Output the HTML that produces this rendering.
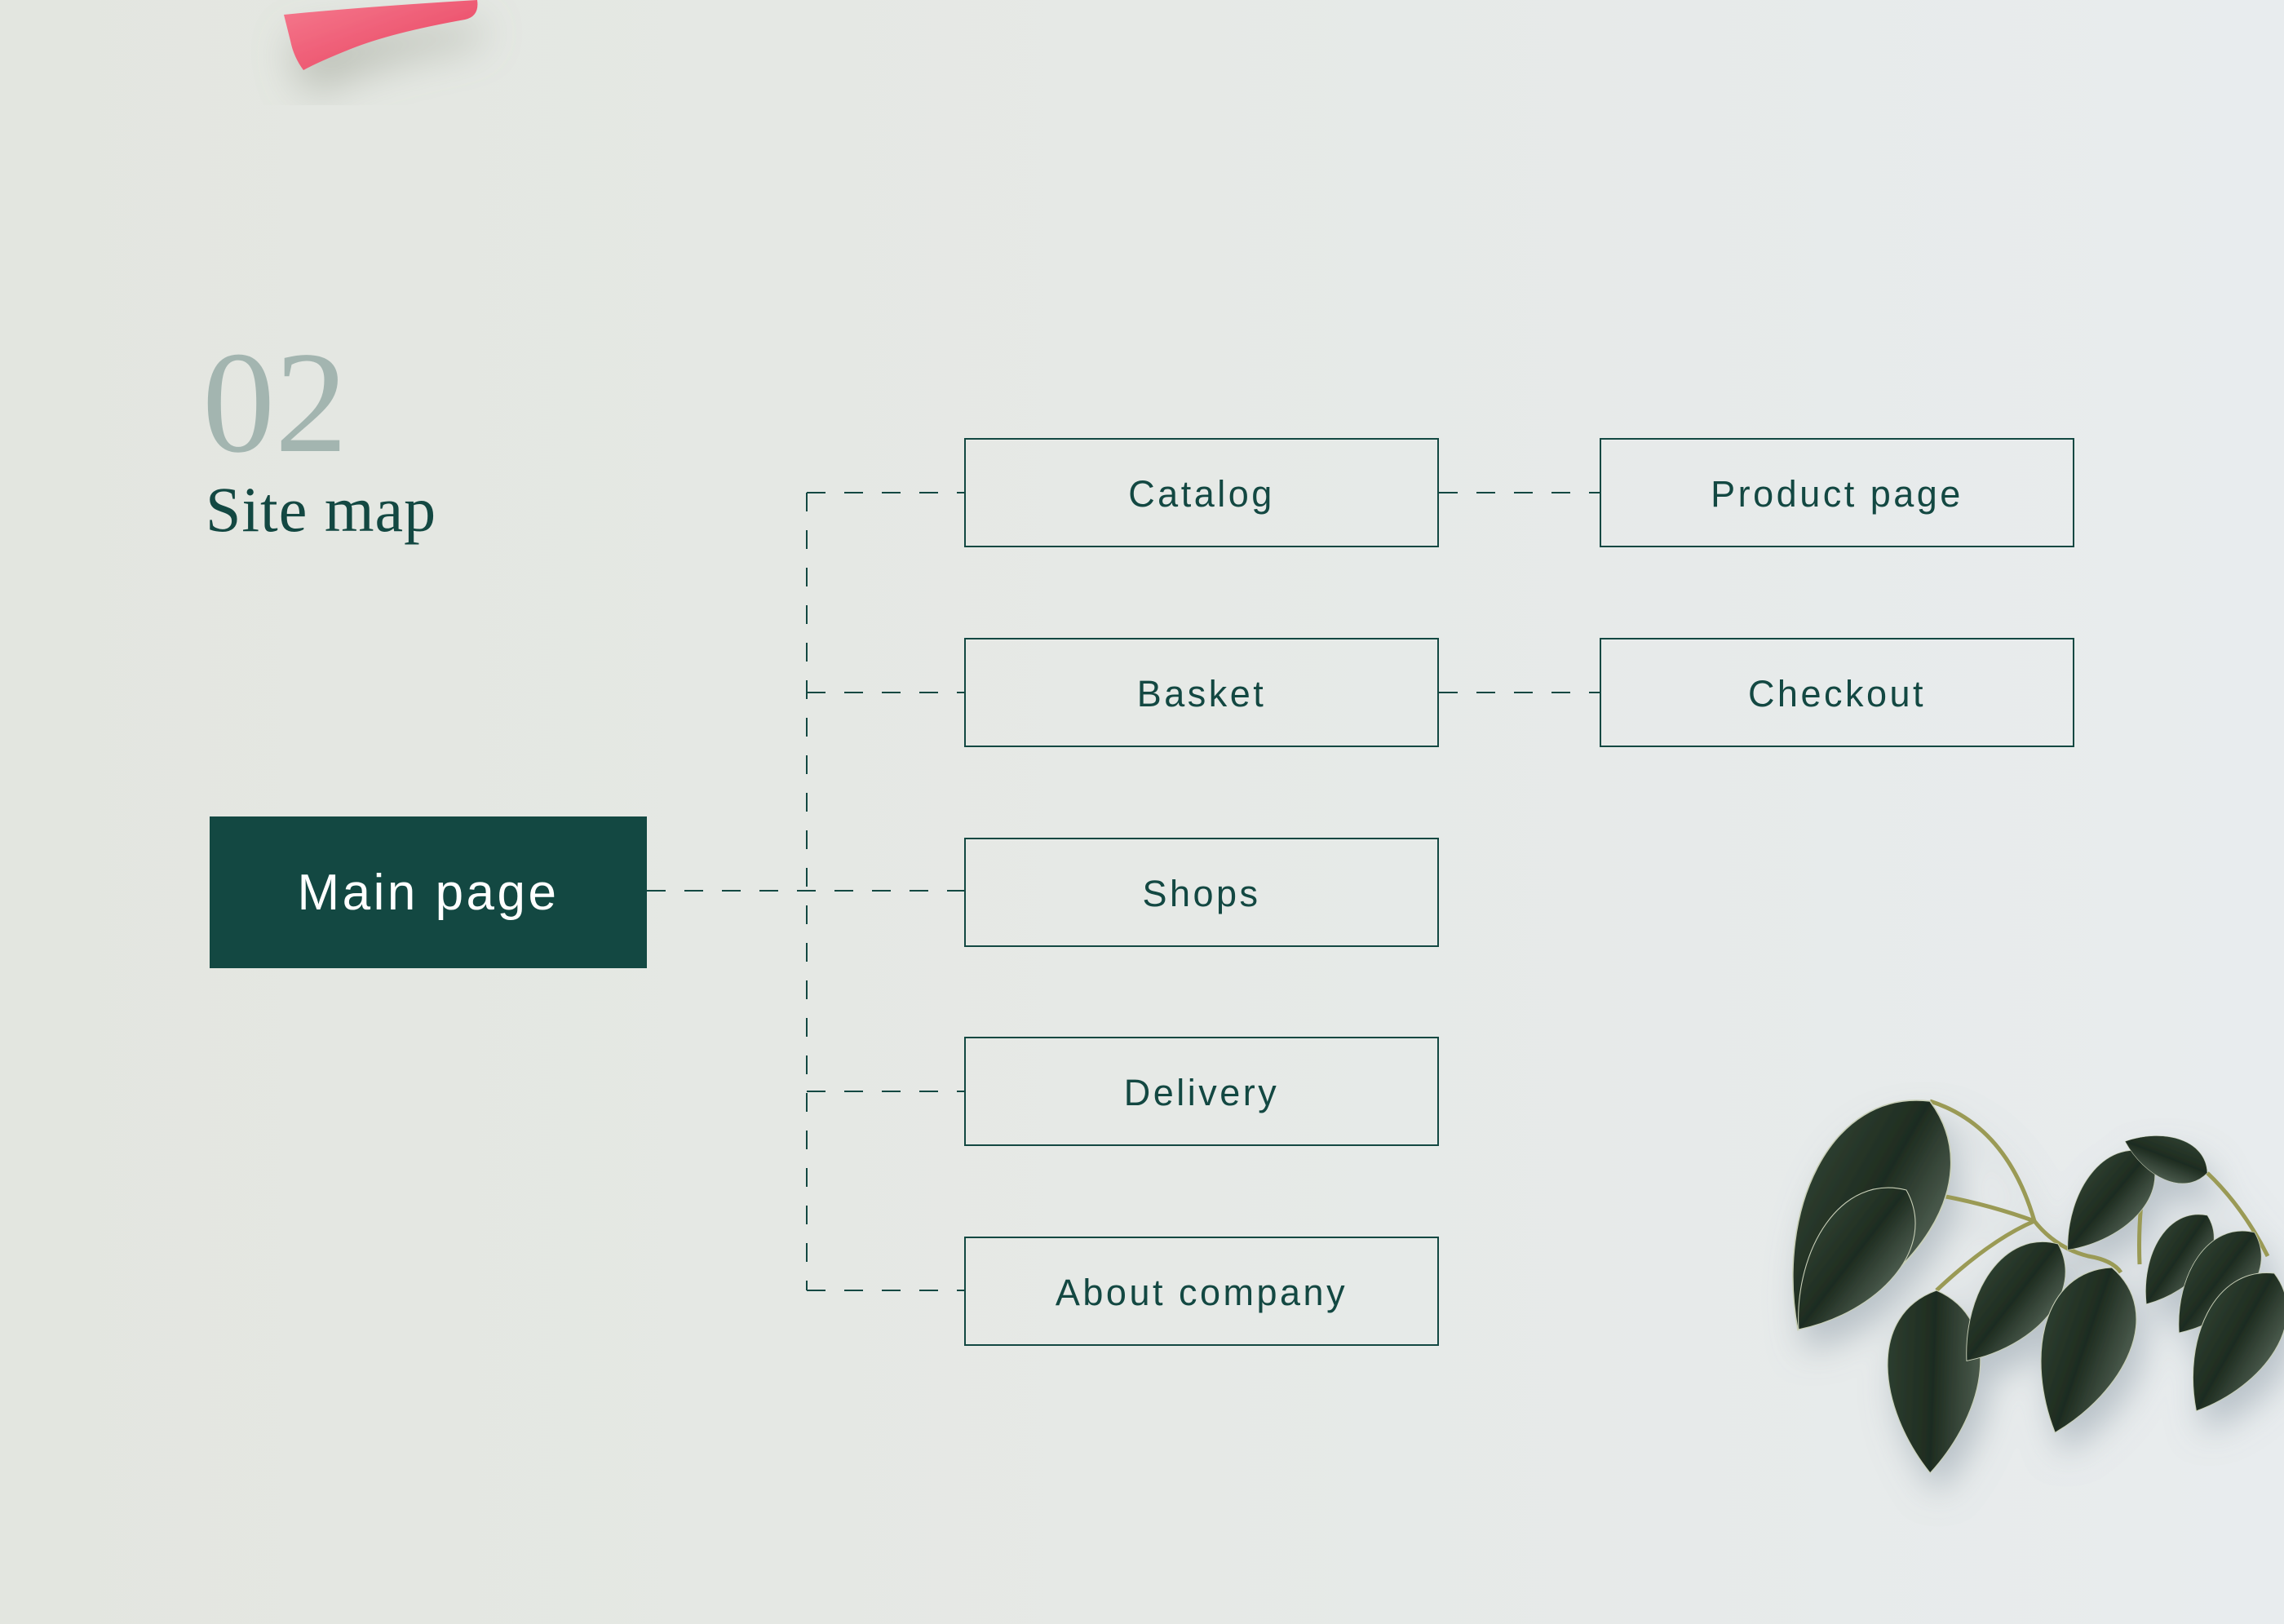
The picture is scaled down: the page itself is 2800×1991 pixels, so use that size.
<!DOCTYPE html>
<html><head><meta charset="utf-8"><style>
html,body{margin:0;padding:0}
body{width:2800px;height:1991px;position:relative;overflow:hidden;background:linear-gradient(90deg,#e3e6e0 0%,#e6e9e6 50%,#e8ecee 100%);font-family:"Liberation Sans",sans-serif}
.box{position:absolute;box-sizing:border-box;width:582px;height:134px;border:2px solid #134842;color:#134842;font-size:45px;letter-spacing:3.5px;display:flex;align-items:center;justify-content:center;padding-top:4px}
.main{position:absolute;left:257px;top:1001px;width:536px;height:186px;background:#134842;color:#fff;font-size:62px;letter-spacing:3.5px;display:flex;align-items:center;justify-content:center}
.num{position:absolute;left:248px;top:404px;font-family:"Liberation Serif",serif;font-size:178px;color:#a3b5b0;line-height:1}
.title{position:absolute;left:252px;top:586px;font-family:"Liberation Serif",serif;font-size:78px;color:#134842;line-height:1;letter-spacing:1px}
</style></head><body>
<svg width="2800" height="1991" style="position:absolute;left:0;top:0">
<defs>
<filter id="sh" x="-50%" y="-50%" width="200%" height="200%"><feDropShadow dx="10" dy="25" stdDeviation="20" flood-color="#8a9aa5" flood-opacity="0.5"/></filter>
<filter id="sh2" x="-50%" y="-50%" width="200%" height="200%"><feDropShadow dx="8" dy="30" stdDeviation="25" flood-color="#8a9080" flood-opacity="0.45"/></filter>
<linearGradient id="lg" x1="0" y1="0" x2="0" y2="1"><stop offset="0" stop-color="#4a5a4c"/><stop offset="0.5" stop-color="#1e2c20"/><stop offset="1" stop-color="#2d3d2f"/></linearGradient>
<linearGradient id="pk" x1="0" y1="0" x2="1" y2="1"><stop offset="0" stop-color="#f57a8e"/><stop offset="1" stop-color="#e8405e"/></linearGradient>
</defs>
<g filter="url(#sh2)"><path d="M348 18 Q450 8 585 0 Q588 20 570 24 Q480 40 430 60 Q390 76 372 86 Q360 70 356 50 Z" fill="url(#pk)"/></g>
<g stroke="#134842" stroke-width="2" fill="none" stroke-dasharray="23 23">
<line x1="989" y1="604" x2="989" y2="1582"/>
<line x1="989" y1="604" x2="1182" y2="604"/>
<line x1="989" y1="849" x2="1182" y2="849"/>
<line x1="793" y1="1092" x2="1182" y2="1092"/>
<line x1="989" y1="1338" x2="1182" y2="1338"/>
<line x1="989" y1="1582" x2="1182" y2="1582"/>
<line x1="1764" y1="604" x2="1961" y2="604"/>
<line x1="1764" y1="849" x2="1961" y2="849"/>
</g>
<g filter="url(#sh)">
<g stroke="#9a9a55" stroke-width="5" fill="none">
<path d="M2366 1350 Q2460 1380 2494 1497"/>
<path d="M2337 1459 Q2420 1470 2494 1497"/>
<path d="M2494 1497 Q2440 1520 2374 1582"/>
<path d="M2494 1497 Q2520 1530 2560 1540 Q2590 1545 2600 1560"/>
<path d="M2635 1413 Q2620 1480 2623 1550"/>
<path d="M2706 1438 Q2750 1480 2780 1540"/>
</g>
<g fill="url(#lg)" stroke="#c9d0b8" stroke-width="1">
<path d="M0 0 C30 -70 130 -60 200 0 C130 60 30 70 0 0Z" transform="translate(2366 1350) rotate(120) scale(1.62)"/>
<path d="M0 0 C30 -70 130 -60 200 0 C130 60 30 70 0 0Z" transform="translate(2337 1459) rotate(127.7) scale(1.08)"/>
<path d="M0 0 C30 -75 130 -60 200 0 C130 60 30 75 0 0Z" transform="translate(2374 1582) rotate(92) scale(1.12)"/>
<path d="M0 0 C30 -70 130 -60 200 0 C130 60 30 70 0 0Z" transform="translate(2523 1525) rotate(128) scale(0.91)"/>
<path d="M0 0 C30 -75 130 -60 200 0 C130 60 30 75 0 0Z" transform="translate(2589 1554) rotate(109) scale(1.07)"/>
<path d="M0 0 C30 -70 130 -60 200 0 C130 60 30 70 0 0Z" transform="translate(2635 1413) rotate(130) scale(0.78)"/>
<path d="M0 0 C30 -70 130 -60 200 0 C130 60 30 70 0 0Z" transform="translate(2706 1438) rotate(201) scale(0.54)"/>
<path d="M0 0 C30 -70 130 -60 200 0 C130 60 30 70 0 0Z" transform="translate(2706 1490) rotate(124.5) scale(0.66)"/>
<path d="M0 0 C30 -70 130 -60 200 0 C130 60 30 70 0 0Z" transform="translate(2764 1511) rotate(127) scale(0.77)"/>
<path d="M0 0 C30 -70 130 -60 200 0 C130 60 30 70 0 0Z" transform="translate(2788 1561) rotate(119.5) scale(0.97)"/>
</g>
</g>
</svg>
<div class="num">02</div>
<div class="title">Site map</div>
<div class="main">Main page</div>
<div class="box" style="left:1182px;top:537px">Catalog</div>
<div class="box" style="left:1182px;top:782px">Basket</div>
<div class="box" style="left:1182px;top:1027px">Shops</div>
<div class="box" style="left:1182px;top:1271px">Delivery</div>
<div class="box" style="left:1182px;top:1516px">About company</div>
<div class="box" style="left:1961px;top:537px">Product page</div>
<div class="box" style="left:1961px;top:782px">Checkout</div>
</body></html>
